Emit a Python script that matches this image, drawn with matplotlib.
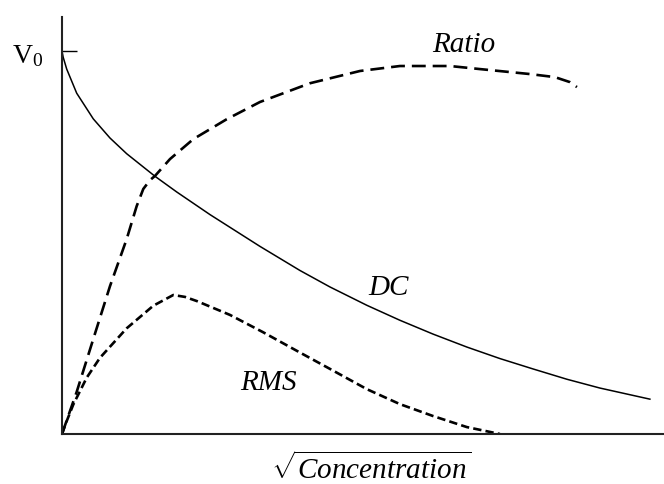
import matplotlib
matplotlib.use("Agg")
import matplotlib.pyplot as plt

plt.rcParams['font.family'] = ['Liberation Serif', 'DejaVu Serif']
plt.rcParams['mathtext.fontset'] = 'custom'
plt.rcParams['mathtext.rm'] = 'Liberation Serif'
plt.rcParams['mathtext.it'] = 'Liberation Serif:italic'
plt.rcParams['lines.scale_dashes'] = False

# curves (x: sqrt concentration, y: % of V0)
dc_x = [0, 0.2, 0.80, 2.50, 5.32, 8.16, 11.00, 15.82, 19.52, 25.17, 33.67, 40.48, 45.58,
        51.87, 57.48, 63.10, 68.88, 74.49, 80.10, 85.88, 91.50, 100]
dc_y = [100, 98.4, 95.3, 89.0, 82.3, 77.3, 73.2, 67.3, 63.2, 57.3, 49.0, 42.7, 38.4,
        33.6, 29.7, 26.1, 22.7, 19.7, 17.0, 14.3, 12.0, 9.1]

ratio_x = [0, 1.36, 2.50, 5.32, 8.16, 11.00, 12.70, 13.83, 14.97, 15.82, 18.37, 22.33,
           28.01, 33.67, 42.18, 50.68, 57.48, 65.99, 71.09, 79.59, 83.84, 86.39, 87.59]
ratio_y = [0, 6.0, 11.0, 24.8, 38.6, 50.9, 59.5, 64.0, 66.3, 67.4, 71.8, 77.0,
           82.2, 86.7, 91.6, 94.8, 96.1, 96.1, 95.3, 94.0, 93.2, 91.9, 90.6]

rms_x = [0, 0.68, 1.92, 4.20, 6.46, 11.00, 15.53, 18.93, 20.92, 22.96, 28.57, 34.18,
         39.97, 45.58, 51.87, 57.48, 63.10, 68.88, 74.49]
rms_y = [0, 2.9, 7.7, 14.7, 19.9, 27.6, 33.5, 36.3, 35.8, 34.7, 31.1, 26.6,
         21.7, 17.0, 11.7, 7.8, 4.7, 1.8, 0]

fig = plt.figure(figsize=(6.64, 4.85), dpi=100)
ax = fig.add_axes([62 / 664, 50 / 485, 602 / 664, 417 / 485])

ax.plot(dc_x, dc_y, color='black', lw=1.1, solid_joinstyle='round')
ax.plot(ratio_x, ratio_y, color='black', lw=1.9, dashes=(10, 5))
ax.plot(rms_x, rms_y, color='black', lw=1.9, dashes=(6, 3))

ax.set_xlim(0, 102.4)
ax.set_ylim(0, 108.9)
for s in ['top', 'right']:
    ax.spines[s].set_visible(False)
for s in ['left', 'bottom']:
    ax.spines[s].set_color('#222222')
    ax.spines[s].set_linewidth(1.5)

ax.set_xticks([])
ax.set_yticks([100])
ax.set_yticklabels([''])
ax.tick_params(axis='y', direction='in', length=11, width=1, color='black')

fig.text(12 / 664, (485 - 63) / 485, r'V$_0$', ha='left', va='baseline', fontsize=20)

ax.text(68.3, 100, 'Ratio', style='italic', fontsize=21, ha='center', va='baseline')
ax.text(55.6, 36.6, 'DC', style='italic', fontsize=21, ha='center', va='baseline')
ax.text(35.2, 11.7, 'RMS', style='italic', fontsize=21, ha='center', va='baseline')

fig.text(371 / 664, 6 / 485, r'$\sqrt{\mathit{Concentration}}$', fontsize=21,
         ha='center', va='baseline')

fig.savefig('out.png', dpi=100)
